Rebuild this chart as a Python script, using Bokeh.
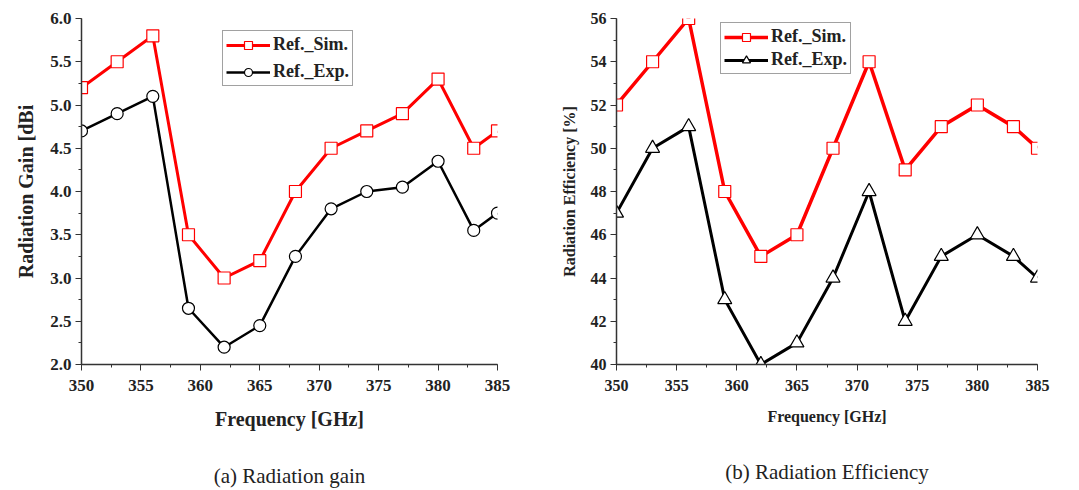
from bokeh.plotting import figure
from bokeh.layouts import row
from bokeh.models import Range1d, SingleIntervalTicker, NumeralTickFormatter, LinearAxis, FixedTicker
from bokeh.embed import file_html
from bokeh.resources import INLINE

freq = [350, 353, 356, 359, 362, 365, 368, 371, 374, 377, 380, 383, 385]
gain_sim = [5.2, 5.5, 5.8, 3.5, 3.0, 3.2, 4.0, 4.5, 4.7, 4.9, 5.3, 4.5, 4.7]
gain_exp = [4.7, 4.9, 5.1, 2.65, 2.2, 2.45, 3.25, 3.8, 4.0, 4.05, 4.35, 3.55, 3.75]
eff_sim = [52, 54, 56, 48, 45, 46, 50, 54, 49, 51, 52, 51, 50]
eff_exp = [47, 50, 51, 43, 40, 41, 44, 48, 42, 45, 46, 45, 44]

FONT = "Liberation Serif"


def make_fig(width, height, yr, yint, left, right, top, bottom, tick_size, title_size,
             xlabel_size, ylabel, fmt, caption, cap_standoff):
    p = figure(width=width, height=height, output_backend="svg", toolbar_location=None,
               x_range=Range1d(350, 385), y_range=Range1d(*yr),
               min_border_left=left, min_border_right=right,
               min_border_top=top, min_border_bottom=bottom)
    p.outline_line_color = None
    p.grid.visible = False
    p.xaxis.ticker = SingleIntervalTicker(interval=5, num_minor_ticks=2)
    p.yaxis.ticker = SingleIntervalTicker(interval=yint, num_minor_ticks=2)
    p.yaxis.formatter = NumeralTickFormatter(format=fmt)
    for ax in (p.xaxis, p.yaxis):
        ax.axis_line_color = "#333333"
        ax.axis_line_width = 1.5
        ax.major_tick_line_color = "#333333"
        ax.minor_tick_line_color = "#333333"
        ax.major_tick_out = 6
        ax.major_tick_in = 0
        ax.minor_tick_out = 3
        ax.minor_tick_in = 0
        ax.major_label_text_font = FONT
        ax.major_label_text_font_style = "bold"
        ax.major_label_text_font_size = tick_size
        ax.major_label_text_color = "#222222"
        ax.axis_label_text_font = FONT
        ax.axis_label_text_font_style = "bold"
        ax.axis_label_text_color = "#222222"
    p.xaxis.axis_label = "Frequency [GHz]"
    p.xaxis.axis_label_text_font_size = xlabel_size
    p.xaxis.major_label_standoff = 9
    p.xaxis.axis_label_standoff = 14
    p.yaxis.axis_label = ylabel
    p.yaxis.axis_label_text_font_size = title_size
    p.yaxis.major_label_standoff = 4
    p.yaxis.axis_label_standoff = 10
    # caption drawn as the label of a bare extra axis below the x axis
    cap = LinearAxis(ticker=FixedTicker(ticks=[]), axis_label=caption,
                     axis_line_color=None, major_tick_line_color=None,
                     minor_tick_line_color=None, major_label_text_font_size="0px",
                     major_tick_out=0, minor_tick_out=0, major_label_standoff=0,
                     axis_label_standoff=cap_standoff, axis_label_text_font=FONT,
                     axis_label_text_font_size="21px", axis_label_text_font_style="normal",
                     axis_label_text_color="#222222")
    p.add_layout(cap, "below")
    return p


p1 = make_fig(540, 490, (2.0, 6.0), 0.5, 81, 43, 18, 126, "17px", "20px", "20px",
              "Radiation Gain [dBi", "0.0", "(a) Radiation gain", 31)
p1.line(freq, gain_sim, line_color="red", line_width=3, legend_label="Ref._Sim.")
p1.scatter(freq, gain_sim, marker="square", size=12, fill_color="white",
           line_color="red", line_width=1.2, legend_label="Ref._Sim.")
p1.line(freq, gain_exp, line_color="black", line_width=2.5, legend_label="Ref._Exp.")
p1.scatter(freq, gain_exp, marker="circle", size=12, fill_color="white",
           line_color="black", line_width=1.2, legend_label="Ref._Exp.")

p2 = make_fig(539, 490, (40, 56), 2, 76, 42, 17, 123, "16px", "16px", "16px",
              "Radiation Efficiency [%]", "0", "(b) Radiation Efficiency", 32)
p2.line(freq, eff_sim, line_color="red", line_width=3.5, legend_label="Ref._Sim.")
p2.scatter(freq, eff_sim, marker="square", size=12, fill_color="white",
           line_color="red", line_width=1.2, legend_label="Ref._Sim.")
p2.line(freq, eff_exp, line_color="black", line_width=3, legend_label="Ref._Exp.")
p2.scatter(freq, eff_exp, marker="triangle", size=14, fill_color="white",
           line_color="black", line_width=1.2, legend_label="Ref._Exp.")

for p, loc, sp in ((p1, (141, 278), 6), (p2, (104, 290), 2)):
    lg = p.legend[0]
    lg.location = loc
    lg.label_text_font = FONT
    lg.label_text_font_style = "bold"
    lg.label_text_font_size = "18px"
    lg.label_text_color = "#222222"
    lg.border_line_color = "#444444"
    lg.border_line_width = 1
    lg.glyph_width = 44
    lg.glyph_height = 20
    lg.spacing = sp
    lg.padding = 3
    lg.margin = 0
    lg.label_standoff = 3
    lg.background_fill_alpha = 1

layout = row(p1, p2, spacing=0)
open("out.html", "w").write(file_html(layout, INLINE))
